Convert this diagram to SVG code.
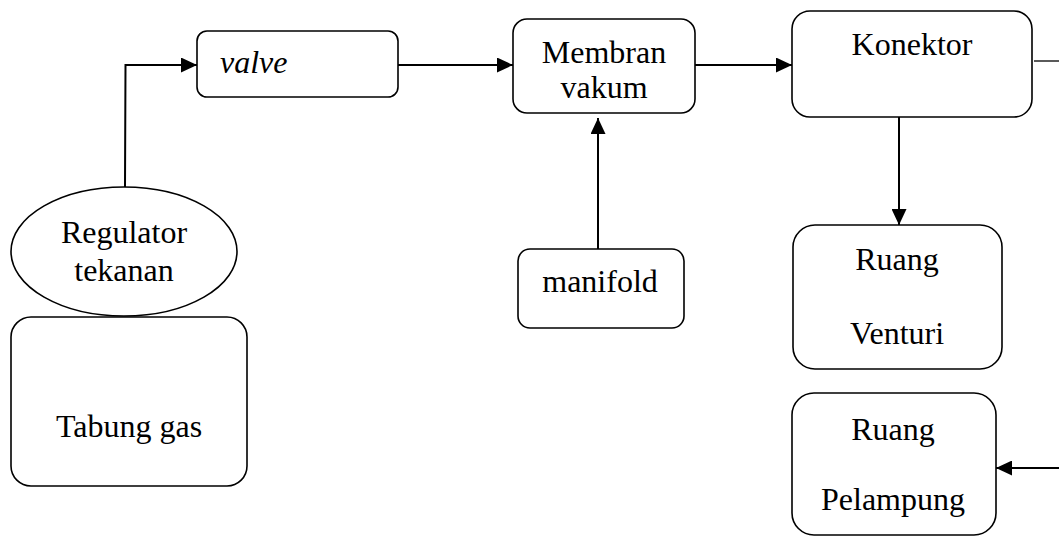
<svg xmlns="http://www.w3.org/2000/svg" width="1059" height="536" viewBox="0 0 1059 536">
<style>
.box{fill:#fff;stroke:#000;stroke-width:1.6}
.t{font-family:"Liberation Serif","Times New Roman",serif;font-size:32px;fill:#000;text-anchor:middle}
.c{fill:none;stroke:#000;stroke-width:2}
</style>
<defs>
<marker id="ah" markerUnits="userSpaceOnUse" markerWidth="17" markerHeight="15" refX="16" refY="7.5" orient="auto">
<path d="M0,0 L16,7.5 L0,15 Z" fill="#000"/>
</marker>
</defs>
<rect width="1059" height="536" fill="#fff"/>
<g id="connectors">
<path class="c" d="M125,187 L125.5,65 L197,65" marker-end="url(#ah)"/>
<path class="c" d="M398,65 L513,65" marker-end="url(#ah)"/>
<path class="c" d="M695,65 L792,65" marker-end="url(#ah)"/>
<path class="c" d="M598,249 L598,118" marker-end="url(#ah)"/>
<path class="c" d="M899,117 L899,225" marker-end="url(#ah)"/>
<path d="M1034,61 L1059,61" stroke="#000" stroke-width="1.3" fill="none"/>
<path class="c" d="M1059,468 L996,468" marker-end="url(#ah)"/>
</g>
<g id="regulator">
<ellipse class="box" cx="124" cy="251.5" rx="113" ry="64.5"/>
<text class="t" x="124" y="243">Regulator</text>
<text class="t" x="124" y="281">tekanan</text>
</g>
<g id="tabung">
<rect class="box" x="11" y="317" width="236" height="169" rx="20"/>
<text class="t" x="129" y="437">Tabung gas</text>
</g>
<g id="valve">
<rect class="box" x="197" y="31" width="201" height="66" rx="10"/>
<text class="t" x="220" y="73" style="text-anchor:start;font-style:italic">valve</text>
</g>
<g id="membran">
<rect class="box" x="513" y="19" width="182" height="94" rx="14"/>
<text class="t" x="604" y="63">Membran</text>
<text class="t" x="604" y="98">vakum</text>
</g>
<g id="manifold">
<rect class="box" x="518" y="249" width="166" height="79" rx="12"/>
<text class="t" x="600" y="292">manifold</text>
</g>
<g id="konektor">
<rect class="box" x="792" y="11" width="240" height="106" rx="18"/>
<text class="t" x="912" y="55">Konektor</text>
</g>
<g id="venturi">
<rect class="box" x="793" y="225" width="209" height="144" rx="22"/>
<text class="t" x="897" y="270">Ruang</text>
<text class="t" x="897" y="344">Venturi</text>
</g>
<g id="pelampung">
<rect class="box" x="792" y="393" width="204" height="142" rx="22"/>
<text class="t" x="893" y="440">Ruang</text>
<text class="t" x="893" y="510">Pelampung</text>
</g>
</svg>
